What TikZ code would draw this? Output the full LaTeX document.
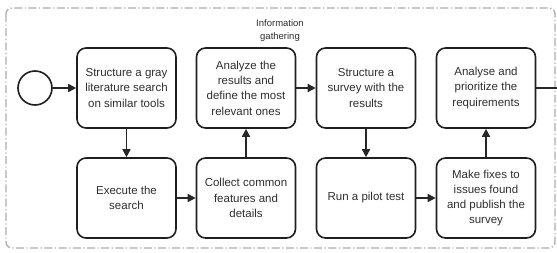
\documentclass[tikz,border=0pt]{standalone}
\usepackage{fontspec}
\setmainfont{Liberation Sans}
\usetikzlibrary{arrows.meta}

\tikzset{
  task/.style={draw=black!88, line width=1.6pt, rounded corners=9pt,
    minimum width=99pt, minimum height=80pt, align=center, inner sep=2pt,
    text=black!82, font=\fontsize{11.5}{15.3}\selectfont},
  flow/.style={line width=1.6pt, draw=black!85,
    -{Triangle[length=8pt,width=8pt]}},
}

\begin{document}
\begin{tikzpicture}[x=1pt,y=-1pt]
  \useasboundingbox (0,0) rectangle (557,252);
  % pool
  \draw[gray!65, line width=1.3pt, rounded corners=6pt,
    dash pattern=on 8pt off 2.5pt on 1.2pt off 2.5pt] (6,8) rectangle (555,248);
  \node[font=\fontsize{9.5}{13}\selectfont, align=center, text=black!82] (lane) at (280,31) {Information\\gathering};
  % start event
  \node[draw=black!88, circle, line width=1.6pt, minimum size=34pt] (start) at (35,88) {};
  % top row
  \node[task] (gray) at (126.5,88) {Structure a gray\\literature search\\on similar tools};
  \node[task] (define) at (246,88) {Analyze the\\results and\\define the most\\relevant ones};
  \node[task] (survey) at (366,88) {Structure a\\survey with the\\results};
  \node[task] (prior) at (486,88) {Analyse and\\prioritize the\\requirements};
  % bottom row
  \node[task] (search) at (126.5,198) {Execute the\\search};
  \node[task] (collect) at (246,198) {Collect common\\features and\\details};
  \node[task] (pilot) at (366,198) {Run a pilot test};
  \node[task] (fixes) at (486,198) {Make fixes to\\issues found\\and publish the\\survey};
  \coordinate (out) at (557,88);
  % sequence flows
  \draw[flow] (start) -- (gray);
  \draw[flow] (gray) -- (search);
  \draw[flow] (search) -- (collect);
  \draw[flow] (collect) -- (define);
  \draw[flow] (define) -- (survey);
  \draw[flow] (survey) -- (pilot);
  \draw[flow] (pilot) -- (fixes);
  \draw[flow] (fixes) -- (prior);
  \draw[line width=1.6pt, draw=black!85] (prior) -- (out);
\end{tikzpicture}
\end{document}
